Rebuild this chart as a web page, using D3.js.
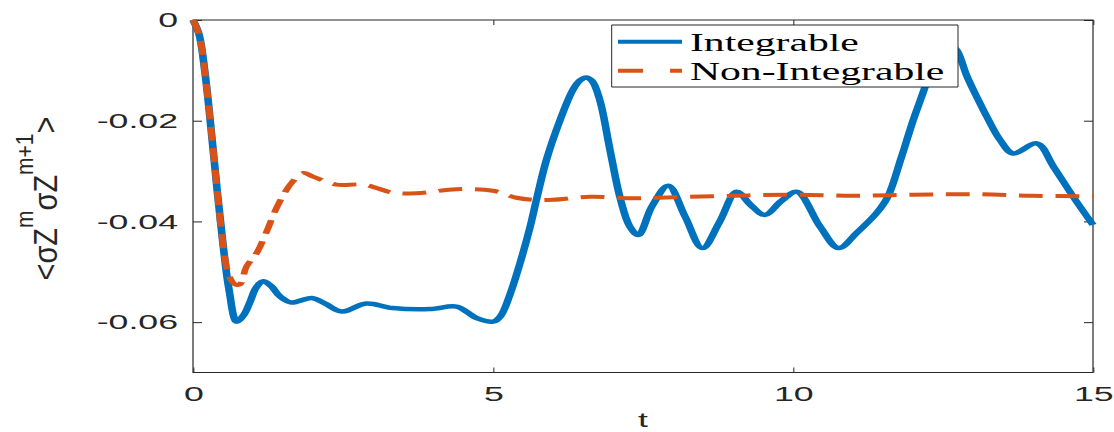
<!DOCTYPE html>
<html>
<head>
<meta charset="utf-8">
<script src="https://cdn.jsdelivr.net/npm/d3@7"></script>
<style>
body{margin:0;background:#fff;}
svg{display:block;}
</style>
</head>
<body>
<div id="chart"></div>
<script>
// Integrable (solid blue)
const intT = [0, 0.1, 0.2, 0.3, 0.4, 0.5, 0.6, 0.73, 0.85, 0.95, 1.05, 1.17, 1.3, 1.45, 1.64, 1.98, 2.2, 2.48, 2.89, 3.33, 3.95, 4.39, 4.73, 5.0, 5.12, 5.28, 5.45, 5.62, 5.73, 5.89, 6.12, 6.33, 6.45, 6.55, 6.65, 6.78, 6.95, 7.12, 7.28, 7.42, 7.65, 7.92, 8.2, 8.49, 8.78, 9.06, 9.3, 9.53, 9.8, 10.06, 10.45, 10.76, 11.06, 11.39, 11.58, 11.8, 12.0, 12.2, 12.35, 12.5, 12.62, 12.73, 12.9, 13.06, 13.23, 13.45, 13.67, 14.06, 14.34, 14.67, 15];
const intV = [0, -0.0028, -0.0105, -0.0215, -0.0335, -0.0445, -0.0535, -0.0599, -0.0585, -0.056, -0.0532, -0.0519, -0.0528, -0.0549, -0.0561, -0.0552, -0.0563, -0.0579, -0.0563, -0.0572, -0.0574, -0.0569, -0.0592, -0.0599, -0.0589, -0.0546, -0.0483, -0.041, -0.0354, -0.0278, -0.0198, -0.0139, -0.0120, -0.0114, -0.0121, -0.0159, -0.0258, -0.0354, -0.041, -0.0427, -0.037, -0.0329, -0.039, -0.0453, -0.040, -0.0341, -0.0368, -0.0387, -0.036, -0.0341, -0.041, -0.0453, -0.0423, -0.0384, -0.0351, -0.0275, -0.020, -0.0133, -0.0075, -0.0045, -0.0048, -0.006, -0.0112, -0.0152, -0.0192, -0.0238, -0.0265, -0.0245, -0.0291, -0.0351, -0.0407];

// Non-Integrable (dashed orange)
const nonT = [0, 0.1, 0.2, 0.3, 0.4, 0.5, 0.6, 0.7, 0.78, 0.89, 1.06, 1.2, 1.43, 1.66, 1.84, 2.0, 2.39, 2.84, 3.34, 3.73, 4.39, 5.0, 5.39, 5.67, 6.0, 6.62, 7.34, 8.0, 9.0, 10.0, 11.0, 12.0, 13.0, 14.0, 15.0];
const nonV = [0, -0.0028, -0.0105, -0.0215, -0.0335, -0.0445, -0.0508, -0.0525, -0.0525, -0.049, -0.0463, -0.0428, -0.0364, -0.0321, -0.0304, -0.0311, -0.0327, -0.0327, -0.0343, -0.0344, -0.0336, -0.0339, -0.0353, -0.0357, -0.0357, -0.0351, -0.0354, -0.0352, -0.0349, -0.0347, -0.0349, -0.0347, -0.0346, -0.0349, -0.035];

const xTicks = [0, 5, 10, 15];
const yTicks = [0, -0.02, -0.04, -0.06];
const yTickLabels = ["0", "-0.02", "-0.04", "-0.06"];
const seriesNames = ["Integrable", "Non-Integrable"];

const W = 1114, H = 432;
const k = 1.7;              // the figure is stretched sideways
const Wn = W / k;
const axisCol = "#262626";
const blue = "#0072BD", orange = "#D95319";

const svg = d3.select("#chart").append("svg")
    .attr("width", W)
    .attr("height", H)
    .attr("viewBox", "0 0 " + Wn + " " + H)
    .attr("preserveAspectRatio", "none");

const x = d3.scaleLinear()
    .domain([0, 15])
    .range([193 / k, 1093 / k]);

const y = d3.scaleLinear()
    .domain([-0.07, 0])
    .range([372.5, 20]);

// axes
const gBottom = svg.append("g")
    .attr("transform", "translate(0," + y(-0.07) + ")")
    .call(d3.axisBottom(x).tickValues(xTicks).tickFormat(d3.format("d"))
        .tickSizeInner(-5).tickSizeOuter(0).tickPadding(14));

const gTop = svg.append("g")
    .attr("transform", "translate(0," + y(0) + ")")
    .call(d3.axisTop(x).tickValues(xTicks).tickFormat("")
        .tickSizeInner(-5).tickSizeOuter(0));

const gLeft = svg.append("g")
    .attr("transform", "translate(" + x(0) + ",0)")
    .call(d3.axisLeft(y).tickValues(yTicks).tickFormat((d, i) => yTickLabels[i])
        .tickSizeInner(-5.3).tickSizeOuter(0).tickPadding(8.8));

const gRight = svg.append("g")
    .attr("transform", "translate(" + x(15) + ",0)")
    .call(d3.axisRight(y).tickValues(yTicks).tickFormat("")
        .tickSizeInner(-5.3).tickSizeOuter(0));

[gBottom, gTop, gLeft, gRight].forEach(g => {
    g.select(".domain").remove();
    g.selectAll("line")
        .attr("stroke", axisCol)
        .attr("stroke-width", 1)
        .attr("vector-effect", "non-scaling-stroke");
    g.selectAll("text")
        .attr("fill", axisCol)
        .style("font-family", "'Liberation Sans', Arial, sans-serif")
        .style("font-size", "21px");
});

svg.append("rect")
    .attr("x", x(0))
    .attr("y", y(0))
    .attr("width", x(15) - x(0))
    .attr("height", y(-0.07) - y(0))
    .attr("fill", "none")
    .attr("stroke", axisCol)
    .attr("stroke-width", 1.2)
    .attr("vector-effect", "non-scaling-stroke");

// curves
const line = d3.line()
    .x(d => x(d[0]))
    .y(d => y(d[1]))
    .curve(d3.curveCatmullRom.alpha(0.5));

svg.append("path")
    .datum(d3.zip(intT, intV))
    .attr("d", line)
    .style("fill", "none")
    .style("stroke", blue)
    .style("stroke-width", 4.5)
    .style("stroke-linejoin", "round");

svg.append("path")
    .datum(d3.zip(nonT, nonV))
    .attr("d", line)
    .style("fill", "none")
    .style("stroke", orange)
    .style("stroke-width", 4)
    .style("stroke-dasharray", "14,7.5");

// axis labels
svg.append("text")
    .attr("x", x(7.5))
    .attr("y", 427)
    .attr("text-anchor", "middle")
    .attr("fill", axisCol)
    .style("font-family", "'Liberation Sans', Arial, sans-serif")
    .style("font-size", "21px")
    .text("t");

const yl = svg.append("g")
    .attr("transform", "translate(" + (57 / k) + ",198.5) scale(" + (1.12 / k) + ",1) rotate(-90)")
    .append("text")
    .attr("text-anchor", "middle")
    .attr("fill", axisCol)
    .style("font-family", "'Liberation Sans', Arial, sans-serif")
    .style("font-size", "29px");
yl.append("tspan").text("<σZ");
yl.append("tspan").attr("dy", -21).style("font-size", "21px").text("m");
yl.append("tspan").attr("dy", 21).text("σZ");
yl.append("tspan").attr("dy", -21).style("font-size", "21px").text("m+1");
yl.append("tspan").attr("dy", 21).text(">");

// legend
const lg = svg.append("g");
lg.append("rect")
    .attr("x", 611.7 / k)
    .attr("y", 25)
    .attr("width", (958 - 611.7) / k)
    .attr("height", 62)
    .attr("fill", "#fff")
    .attr("stroke", axisCol)
    .attr("stroke-width", 1)
    .attr("vector-effect", "non-scaling-stroke");

const legRows = [
    {name: seriesNames[0], col: blue, dash: null, ly: 41.7, ty: 51.5},
    {name: seriesNames[1], col: orange, dash: "14.7,15.9", ly: 70.7, ty: 80}
];
legRows.forEach(r => {
    lg.append("line")
        .attr("x1", 618 / k).attr("x2", 682 / k)
        .attr("y1", r.ly).attr("y2", r.ly)
        .style("stroke", r.col)
        .style("stroke-width", 4)
        .style("stroke-dasharray", r.dash);
    lg.append("text")
        .attr("x", 690 / k)
        .attr("y", r.ty)
        .attr("fill", "#000")
        .style("font-family", "'Liberation Serif', 'Times New Roman', serif")
        .style("font-size", "24.5px")
        .text(r.name);
});
</script>
</body>
</html>
